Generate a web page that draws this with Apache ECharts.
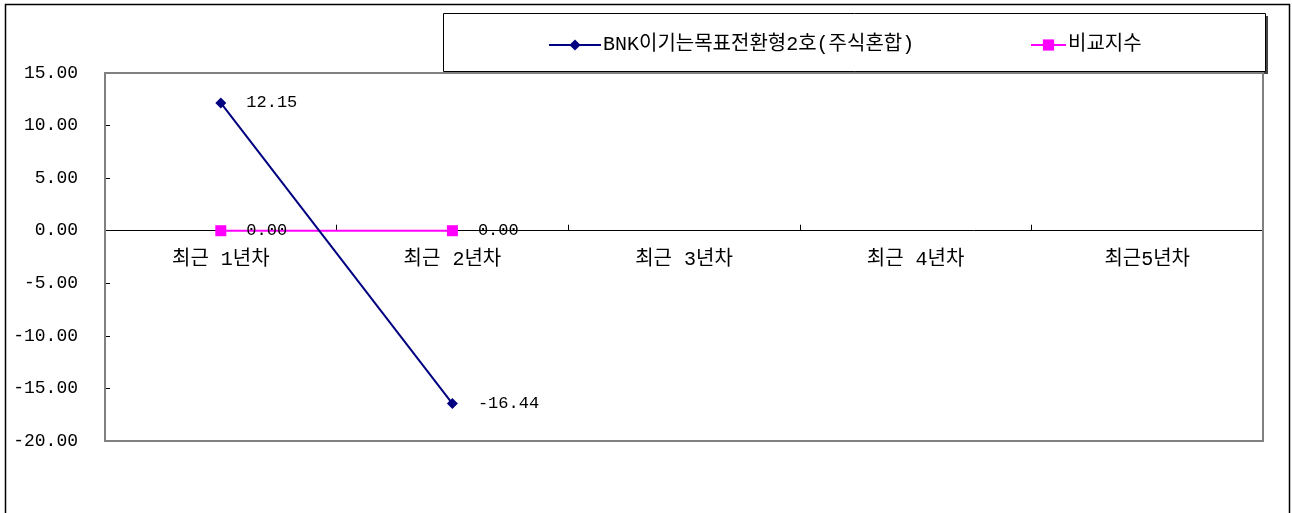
<!DOCTYPE html>
<html><head><meta charset="utf-8">
<script src="https://cdn.jsdelivr.net/npm/echarts@6/dist/echarts.min.js"></script>
<style>html,body{margin:0;padding:0;background:#fff}#c{width:1292px;height:513px}</style>
</head><body><div id="c"></div>
<script>
const categories = ['최근 1년차','최근 2년차','최근 3년차','최근 4년차','최근5년차'];
const fundName = 'BNK이기는목표전환형2호(주식혼합)';
const benchName = '비교지수';
const fundValues = [12.15, -16.44, null, null, null];
const benchValues = [0.00, 0.00, null, null, null];
const yTicks = {min: -20, max: 15, interval: 5};

const FONT = "'Liberation Mono','Noto Sans CJK KR',monospace";
const gridTop = 73, gridBottom = 72, H = 513;
const plotH = H - gridTop - gridBottom;
const zeroOffset = -plotH * (0 - yTicks.min) / (yTicks.max - yTicks.min);

const chart = echarts.init(document.getElementById('c'));
chart.setOption({
  animation: false,
  backgroundColor: '#fff',
  graphic: [
    {type:'rect', shape:{x:5.5,y:4.5,width:1284,height:600}, style:{fill:'none',stroke:'#000',lineWidth:1.5}, z:-1},
    {type:'rect', shape:{x:446,y:16,width:822,height:58}, style:{fill:'#444',stroke:'none'}, z:0},
    {type:'rect', shape:{x:443.5,y:13.5,width:822,height:58}, style:{fill:'#fff',stroke:'#000',lineWidth:1}, z:1},
    {type:'rect', shape:{x:105,y:73,width:1158,height:368}, style:{fill:'none',stroke:'#808080',lineWidth:2}, z:2}
  ],
  legend: [
    {data:[fundName], left:548, top:35, padding:0, itemWidth:52, itemHeight:14, itemGap:0, z:10,
     textStyle:{fontFamily:FONT,fontSize:20,color:'#000',padding:[0,0,0,-3]}},
    {data:[benchName], left:1030, top:35, padding:0, itemWidth:35, itemHeight:14, itemGap:0, z:10,
     textStyle:{fontFamily:FONT,fontSize:20,color:'#000',padding:[0,0,0,-3]}}
  ],
  grid: {left:105, right:29, top:gridTop, bottom:gridBottom},
  xAxis: {
    type:'category', data:categories, boundaryGap:true, position:'bottom', offset:zeroOffset,
    axisLine:{onZero:false, lineStyle:{color:'#000',width:1}},
    axisTick:{show:true,inside:true,length:6,lineStyle:{color:'#000',width:1}},
    axisLabel:{fontFamily:FONT,fontSize:20,color:'#000',margin:19,interval:0},
    splitLine:{show:false}
  },
  yAxis: {
    type:'value', min:yTicks.min, max:yTicks.max, interval:yTicks.interval,
    axisLine:{show:true,lineStyle:{color:'#000',width:1}},
    axisTick:{show:true,inside:true,length:5,lineStyle:{color:'#000'}},
    axisLabel:{fontFamily:FONT,fontSize:18,color:'#000',margin:27,formatter:v=>v.toFixed(2)},
    splitLine:{show:false}
  },
  series: [
    {name:fundName, type:'line', data:fundValues, symbol:'diamond', symbolSize:11,
     lineStyle:{color:'#000080',width:2}, itemStyle:{color:'#000080'}, z:5,
     label:{show:true,position:'right',distance:20,fontFamily:FONT,fontSize:17,color:'#000',formatter:p=>p.value.toFixed(2)}},
    {name:benchName, type:'line', data:benchValues, symbol:'rect', symbolSize:11,
     lineStyle:{color:'#FF00FF',width:2}, itemStyle:{color:'#FF00FF'}, z:4,
     label:{show:true,position:'right',distance:20,fontFamily:FONT,fontSize:17,color:'#000',formatter:p=>p.value.toFixed(2)}}
  ]
});
</script></body></html>
